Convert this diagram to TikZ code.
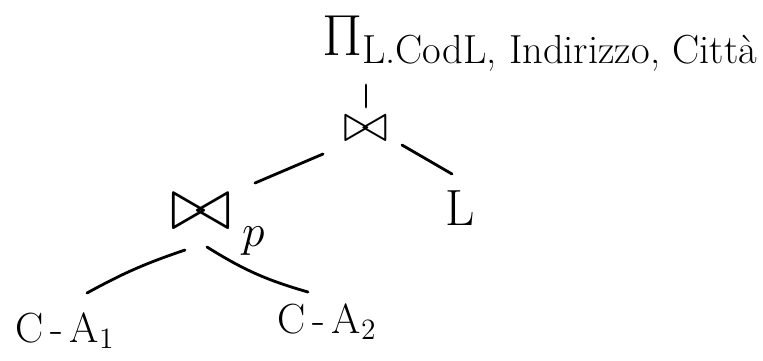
\RequirePackage{fix-cm}
\documentclass[tikz,border=0pt]{standalone}
\usepackage{amsmath}
\usetikzlibrary{calc}
\tikzset{
  op/.style={inner sep=0pt, outer sep=0pt},
  edge/.style={line width=1.6pt, line cap=round},
}
\begin{document}
\begin{tikzpicture}[x=0.02cm, y=-0.02cm]
    \useasboundingbox (0,0) rectangle (763,360);
    % operators and relations
    \node[op, anchor=base west, font=\fontsize{33}{40}\selectfont] (proj) at (322,55) {$\Pi_{\text{L.CodL, Indirizzo, Città}}$};
    \node[op, font=\fontsize{31}{36}\selectfont] (join) at (366,129) {$\bowtie$};
    \node[op, font=\fontsize{29}{34}\selectfont] (rel) at (460,208) {L};
    \node[op, font=\fontsize{43}{50}\selectfont] (joinp) at (201,212) {$\bowtie$};
    \node[op, anchor=base west, font=\fontsize{26}{30}\selectfont] (pred) at (242,246) {$p$};
    \node[op, anchor=base west, font=\fontsize{24}{28}\selectfont] (ca1) at (15,342) {C\,-\,A$_1$};
    \node[op, anchor=base west, font=\fontsize{24}{28}\selectfont] (ca2) at (277,333) {C\,-\,A$_2$};
    % edges
    \draw[edge] ($(join)+(0,-22)$) -- ($(join)+(0,-44)$);
    \draw[edge] ($(join)+(-43,25)$) -- ($(joinp)+(54,-29)$);
    \draw[edge] ($(join)+(36,16)$) -- ($(rel)+(-8,-34)$);
    \draw[edge] ($(joinp)+(-16,38)$) to[bend right=5] ($(ca1.base west)+(72,-49)$);
    \draw[edge] ($(joinp)+(6,35)$) to[bend right=8] ($(ca2.base west)+(31,-41)$);
\end{tikzpicture}
\end{document}
